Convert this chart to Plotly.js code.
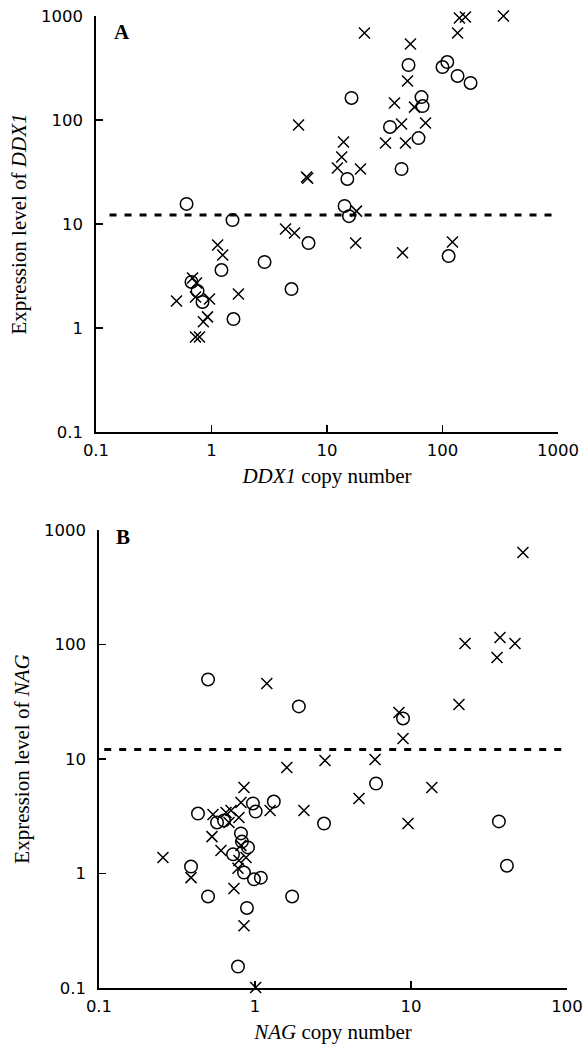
<!DOCTYPE html>
<html>
<head>
<meta charset="utf-8">
<script src="https://cdn.plot.ly/plotly-3.0.1.min.js"></script>
<style>
html,body{margin:0;padding:0;background:#fff;}
#chart{width:584px;height:1052px;}
</style>
</head>
<body>
<div id="chart"></div>
<script>
// ---------- Panel A : DDX1 ----------
const aCrossX = [21.1, 52.8, 49.8, 38.4, 57.2, 5.67, 44.2, 71.3, 32.1, 47.8, 13.9, 13.4, 12.3, 19.5, 6.65, 6.8, 18, 4.37, 5.23, 17.7, 45.1, 122, 135, 140, 158, 337, 1.13, 1.25, 1.71, 0.498, 0.685, 0.742, 0.727, 0.961, 0.923, 0.85, 0.727, 0.787];
const aCrossY = [687, 538, 237, 146, 133, 89.5, 91.5, 93.6, 60, 60, 61.4, 44, 34.5, 33.8, 28.3, 27.5, 13.3, 8.95, 8.2, 6.56, 5.3, 6.7, 687, 957, 978, 1000, 6.28, 5.03, 2.12, 1.82, 3.03, 2.71, 1.99, 1.90, 1.28, 1.15, 0.82, 0.82];
const aCircleX = [0.608, 1.52, 50.8, 16.3, 65.8, 67.2, 35.1, 62, 15.0, 44.2, 14.2, 15.5, 6.92, 113, 100, 110, 135, 175, 4.93, 1.22, 2.88, 1.55, 0.671, 0.757, 0.836];
const aCircleY = [15.6, 10.9, 338, 163, 166, 136, 85.7, 67, 27.1, 33.8, 14.9, 11.9, 6.56, 4.92, 323, 361, 265, 227, 2.37, 3.61, 4.31, 1.22, 2.77, 2.27, 1.78];
const aThreshold = 12.2;
const aThresholdX = [0.131, 980];

// ---------- Panel B : NAG ----------
const bCrossX = [52.2, 22.2, 37.2, 46.4, 35.6, 20.3, 8.37, 8.89, 1.19, 1.60, 2.81, 5.88, 4.64, 13.6, 2.06, 9.57, 0.85, 0.813, 1.25, 0.538, 0.652, 0.702, 0.789, 0.681, 0.530, 0.605, 0.813, 0.876, 0.789, 0.778, 0.257, 0.389, 0.733, 0.85, 1.01];
const bCrossY = [636, 102, 115, 102, 77, 29.9, 25.5, 15.1, 45.6, 8.43, 9.7, 9.9, 4.52, 5.64, 3.55, 2.73, 5.64, 4.17, 3.55, 3.27, 3.41, 3.55, 3.08, 2.79, 2.10, 1.59, 1.76, 1.38, 1.30, 1.11, 1.38, 0.92, 0.74, 0.35, 0.101];
const bCircleX = [0.50, 1.91, 8.89, 5.97, 2.77, 36.6, 41.2, 1.73, 0.431, 0.97, 1.01, 1.32, 0.571, 0.633, 0.813, 0.825, 0.902, 0.723, 0.85, 0.985, 1.09, 0.389, 0.50, 0.888, 0.778];
const bCircleY = [49.5, 28.8, 22.6, 6.11, 2.73, 2.85, 1.17, 0.63, 3.34, 4.09, 3.48, 4.25, 2.79, 2.90, 2.24, 1.90, 1.69, 1.47, 1.02, 0.89, 0.92, 1.15, 0.63, 0.50, 0.154];
const bThreshold = 12.1;
const bThresholdX = [0.108, 98.6];

// ---------- Tick labels ----------
const tickValsA = [0.1, 1, 10, 100, 1000];
const tickTextA = ['0.1', '1', '10', '100', '1000'];
const tickValsBx = [0.1, 1, 10, 100];
const tickTextBx = ['0.1', '1', '10', '100'];

function minorVals(lo, hi) {
  const v = [];
  for (let d = lo; d < hi; d++) for (let k = 2; k <= 9; k++) v.push(k * Math.pow(10, d));
  return v;
}

const crossMarker = {symbol: 'x-thin-open', size: 11, color: '#000', line: {color: '#000', width: 1.5}};
const circleMarker = {symbol: 'circle-open', size: 12.5, color: '#000', line: {color: '#000', width: 1.5}};
const dashLine = {color: '#000', width: 3, dash: '7px,8px'};

const traces = [
  {x: aThresholdX, y: aThresholdX.map(() => aThreshold), mode: 'lines', line: dashLine, xaxis: 'x', yaxis: 'y', hoverinfo: 'skip'},
  {x: aCrossX, y: aCrossY, mode: 'markers', marker: crossMarker, xaxis: 'x', yaxis: 'y', cliponaxis: false},
  {x: aCircleX, y: aCircleY, mode: 'markers', marker: circleMarker, xaxis: 'x', yaxis: 'y', cliponaxis: false},
  {x: bThresholdX, y: bThresholdX.map(() => bThreshold), mode: 'lines', line: dashLine, xaxis: 'x2', yaxis: 'y2', hoverinfo: 'skip'},
  {x: bCrossX, y: bCrossY, mode: 'markers', marker: crossMarker, xaxis: 'x2', yaxis: 'y2', cliponaxis: false},
  {x: bCircleX, y: bCircleY, mode: 'markers', marker: circleMarker, xaxis: 'x2', yaxis: 'y2', cliponaxis: false}
];

const tickFont = {family: 'DejaVu Sans, Arial, sans-serif', size: 16.5, color: '#000'};
const titleFont = {family: 'Liberation Serif, Times New Roman, serif', size: 21, color: '#000'};

function axisBase(extra) {
  return Object.assign({
    type: 'log',
    showgrid: false,
    zeroline: false,
    showline: true,
    linecolor: '#000',
    linewidth: 1.8,
    mirror: false,
    ticks: 'inside',
    ticklen: 7,
    tickwidth: 1.2,
    tickcolor: '#000',
    tickfont: tickFont,
    tickmode: 'array',
    fixedrange: true
  }, extra);
}

// overlay axes carrying the minor (unlabelled) ticks
function minorAxis(extra, lo, hi) {
  return Object.assign({
    type: 'log',
    showgrid: false,
    zeroline: false,
    showline: false,
    ticks: 'inside',
    ticklen: 4,
    tickwidth: 1,
    tickcolor: '#000',
    showticklabels: false,
    tickmode: 'array',
    tickvals: minorVals(lo, hi),
    fixedrange: true
  }, extra);
}

const layout = {
  width: 584,
  height: 1052,
  margin: {l: 0, r: 0, t: 0, b: 0},
  paper_bgcolor: '#fff',
  plot_bgcolor: '#fff',
  showlegend: false,
  xaxis: axisBase({
    domain: [96/584, 558/584], range: [-1, 3], anchor: 'y',
    tickvals: tickValsA, ticktext: tickTextA, ticklabelstandoff: 2,
    title: {text: '<i>DDX1</i> copy number', font: titleFont, standoff: 10}
  }),
  yaxis: axisBase({
    domain: [1 - 432/1052, 1 - 16/1052], range: [-1, 3], anchor: 'x',
    tickvals: tickValsA, ticktext: tickTextA, ticklabelstandoff: 8,
    title: {text: 'Expression level of <i>DDX1</i>', font: titleFont, standoff: 8}
  }),
  xaxis2: axisBase({
    domain: [99/584, 567/584], range: [-1, 2], anchor: 'y2',
    tickvals: tickValsBx, ticktext: tickTextBx, ticklabelstandoff: 2,
    title: {text: '<i>NAG</i> copy number', font: titleFont, standoff: 10}
  }),
  yaxis2: axisBase({
    domain: [1 - 988/1052, 1 - 530/1052], range: [-1, 3], anchor: 'x2',
    tickvals: tickValsA, ticktext: tickTextA, ticklabelstandoff: 8,
    title: {text: 'Expression level of <i>NAG</i>', font: titleFont, standoff: 8}
  }),
  xaxis3: minorAxis({overlaying: 'x', anchor: 'y', range: [-1, 3], side: 'bottom'}, -1, 3),
  yaxis3: minorAxis({overlaying: 'y', anchor: 'x', range: [-1, 3], side: 'left'}, -1, 3),
  xaxis4: minorAxis({overlaying: 'x2', anchor: 'y2', range: [-1, 2], side: 'bottom'}, -1, 2),
  yaxis4: minorAxis({overlaying: 'y2', anchor: 'x2', range: [-1, 3], side: 'left'}, -1, 3),
  annotations: [
    {text: '<b>A</b>', xref: 'x domain', yref: 'y domain', x: 0.035, y: 0.962, xanchor: 'left', yanchor: 'middle', showarrow: false, font: {family: 'Liberation Serif, Times New Roman, serif', size: 21, color: '#000'}},
    {text: '<b>B</b>', xref: 'x2 domain', yref: 'y2 domain', x: 0.033, y: 0.985, xanchor: 'left', yanchor: 'middle', showarrow: false, font: {family: 'Liberation Serif, Times New Roman, serif', size: 21, color: '#000'}}
  ]
};

Plotly.newPlot('chart', traces, layout, {displayModeBar: false, staticPlot: true});
</script>
</body>
</html>
